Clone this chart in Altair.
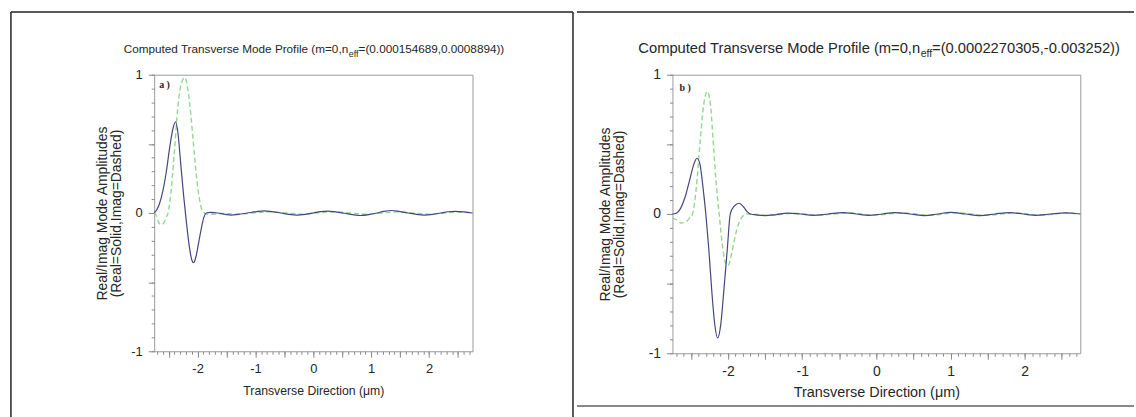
import altair as alt
import pandas as pd

# ---------------- data ----------------
# Panel a
a_real_x = [-2.75, -2.71, -2.66, -2.60, -2.54, -2.48, -2.42, -2.38, -2.34, -2.29, -2.24, -2.19,
            -2.14, -2.10, -2.07, -2.03, -1.98, -1.93, -1.89, -1.85, -1.78, -1.65, -1.52, -1.42,
            -1.30, -1.14, -0.98, -0.85, -0.72, -0.56, -0.42, -0.28, -0.14, 0.0, 0.12, 0.25, 0.38,
            0.54, 0.68, 0.82, 0.96, 1.10, 1.22, 1.35, 1.48, 1.64, 1.78, 1.92, 2.06, 2.20, 2.33,
            2.45, 2.60, 2.75]
a_real_y = [0.0, 0.02, 0.065, 0.16, 0.30, 0.48, 0.62, 0.66, 0.58, 0.35, 0.12, -0.08,
            -0.25, -0.34, -0.36, -0.32, -0.21, -0.10, -0.03, 0.0, 0.005, 0.0, -0.01, -0.015,
            -0.01, 0.0, 0.01, 0.015, 0.01, 0.0, -0.01, -0.015, -0.01, 0.0, 0.01, 0.013, 0.008,
            -0.002, -0.012, -0.018, -0.012, 0.0, 0.012, 0.018, 0.012, 0.0, -0.01, -0.015, -0.01, 0.0, 0.009,
            0.012, 0.008, 0.0]
a_imag_x = [-2.75, -2.71, -2.67, -2.63, -2.58, -2.54, -2.51, -2.46, -2.40, -2.34, -2.28, -2.22,
            -2.17, -2.11, -2.05, -1.99, -1.93, -1.88, -1.82, -1.70, -1.55, -1.30, -1.05, -0.75,
            -0.45, -0.20, 0.05, 0.35, 0.62, 0.90, 1.18, 1.45, 1.72, 2.00, 2.27, 2.55, 2.75]
a_imag_y = [0.0, -0.02, -0.07, -0.085, -0.07, -0.03, 0.0, 0.15, 0.45, 0.77, 0.94, 0.98,
            0.90, 0.68, 0.40, 0.16, 0.03, 0.0, -0.01, -0.008, -0.004, -0.008, 0.0, 0.008,
            0.0, -0.008, 0.0, 0.008, 0.0, -0.008, 0.0, 0.008, 0.0, -0.008, 0.0, 0.007, 0.0]

# Panel b
b_real_x = [-2.75, -2.70, -2.64, -2.58, -2.52, -2.46, -2.42, -2.38, -2.34, -2.30, -2.26, -2.22,
            -2.18, -2.14, -2.10, -2.06, -2.01, -1.97, -1.92, -1.85, -1.79, -1.74, -1.70, -1.60,
            -1.50, -1.35, -1.20, -1.02, -0.85, -0.65, -0.45, -0.27, -0.10, 0.08, 0.25, 0.45,
            0.65, 0.83, 1.00, 1.20, 1.40, 1.60, 1.80, 1.98, 2.15, 2.35, 2.55, 2.75]
b_real_y = [0.0, 0.005, 0.04, 0.12, 0.24, 0.36, 0.40, 0.36, 0.20, 0.0, -0.25, -0.55,
            -0.79, -0.89, -0.80, -0.57, -0.25, 0.0, 0.055, 0.077, 0.05, 0.015, 0.0, -0.008,
            -0.012, -0.004, 0.006, 0.0, -0.01, 0.0, 0.01, 0.0, -0.01, 0.0, 0.01, 0.0,
            -0.012, 0.0, 0.012, 0.0, -0.012, 0.0, 0.01, 0.0, -0.01, 0.0, 0.008, 0.0]
b_imag_x = [-2.75, -2.70, -2.63, -2.58, -2.52, -2.48, -2.43, -2.38, -2.33, -2.28, -2.24, -2.20,
            -2.16, -2.12, -2.07, -2.03, -2.00, -1.95, -1.90, -1.85, -1.80, -1.75, -1.60, -1.42,
            -1.12, -0.77, -0.37, -0.02, 0.33, 0.73, 1.08, 1.48, 1.88, 2.23, 2.55, 2.75]
b_imag_y = [-0.03, -0.04, -0.065, -0.06, -0.03, 0.0, 0.18, 0.50, 0.78, 0.88, 0.80, 0.52,
            0.22, 0.0, -0.25, -0.36, -0.37, -0.28, -0.15, -0.06, -0.015, 0.0, -0.004, -0.009,
            0.005, -0.008, 0.008, -0.008, 0.008, -0.009, 0.009, -0.009, 0.008, -0.008, 0.006, 0.0]

title_a = ["Computed Transverse Mode Profile (m=0,n", "eff", "=(0.000154689,0.0008894))"]
title_b = ["Computed Transverse Mode Profile (m=0,n", "eff", "=(0.0002270305,-0.003252))"]
y_title = ["Real/Imag Mode Amplitudes", "(Real=Solid,Imag=Dashed)"]
x_title = "Transverse Direction (\u03bcm)"
panel_tags = ["a )", "b )"]

x_domain = [-2.75, 2.75]
y_domain = [-1, 1]
x_minor = [round(-2.7 + 0.1 * i, 1) for i in range(55)]
x_major = [-2.5, -2.0, -1.5, -1.0, -0.5, 0.0, 0.5, 1.0, 1.5, 2.0, 2.5]
y_minor = [round(-1.0 + 0.1 * i, 1) for i in range(21)]
y_major = [-1.0, -0.5, 0.0, 0.5, 1.0]

SOLID = "#45467f"
DASHED = "#92d98c"
TXT = "#262626"
TICK = "#8a8a8a"
REG = "Liberation Sans, Arial, sans-serif"

one = pd.DataFrame({"k": [0]})
LBL = "datum.value == round(datum.value) ? '' + datum.value : ''"


def panel(rx, ry, ix, iy, W, H, lsize, xtsize, title, tparts, tag, yt_x, borders):
    xs = alt.Scale(domain=x_domain, nice=False, zero=False)
    ys = alt.Scale(domain=y_domain, nice=False, zero=False)
    real_df = pd.DataFrame({"x": rx, "y": ry})
    imag_df = pd.DataFrame({"x": ix, "y": iy})

    maj_x = alt.Axis(orient="bottom", values=x_major, tickSize=6, tickColor=TICK, domain=False,
                     grid=False, labelExpr=LBL, labelFont=REG, labelFontSize=lsize, labelColor=TXT,
                     labelPadding=5, labelBaseline="top", title=x_title, titleFont=REG,
                     titleFontSize=xtsize, titleFontWeight="normal", titleColor=TXT, titleY=39,
                     titleBaseline="middle")
    maj_y = alt.Axis(orient="left", values=y_major, tickSize=6, tickColor=TICK, domain=False,
                     grid=False, labelExpr=LBL, labelFont=REG, labelFontSize=lsize, labelColor=TXT,
                     labelPadding=6, title=y_title, titleFont=REG, titleFontSize=14,
                     titleFontWeight="normal", titleColor=TXT, titleX=yt_x, titleBaseline="middle",
                     titleLineHeight=14)
    min_x = alt.Axis(orient="bottom", values=x_minor, tickSize=3, tickColor=TICK, domain=False,
                     grid=False, labels=False, title=None)
    min_y = alt.Axis(orient="left", values=y_minor, tickSize=3, tickColor=TICK, domain=False,
                     grid=False, labels=False, title=None)

    imag = alt.Chart(imag_df).mark_line(color=DASHED, strokeWidth=1.4, strokeDash=[5, 3],
                                        interpolate="monotone").encode(
        x=alt.X("x:Q", scale=xs, axis=min_x), y=alt.Y("y:Q", scale=ys, axis=min_y))
    real = alt.Chart(real_df).mark_line(color=SOLID, strokeWidth=1.2,
                                        interpolate="monotone").encode(
        x=alt.X("x:Q", scale=xs, axis=maj_x), y=alt.Y("y:Q", scale=ys, axis=maj_y))

    p1x, effx, p3x, ty, tfs, efs = tparts
    t1 = alt.Chart(one).mark_text(text=title[0], font=REG, fontSize=tfs, color=TXT, align="right",
                                  baseline="middle").encode(x=alt.value(p1x), y=alt.value(ty))
    t2 = alt.Chart(one).mark_text(text=title[1], font=REG, fontSize=efs, color=TXT, align="left",
                                  baseline="middle").encode(x=alt.value(effx), y=alt.value(ty + 5))
    t3 = alt.Chart(one).mark_text(text=title[2], font=REG, fontSize=tfs, color=TXT, align="left",
                                  baseline="middle").encode(x=alt.value(p3x), y=alt.value(ty))
    tg = alt.Chart(one).mark_text(text=tag[0], font="Liberation Serif, serif", fontSize=10,
                                  fontWeight="bold", color=TXT, align="left",
                                  baseline="middle").encode(x=alt.value(tag[1]), y=alt.value(tag[2]))
    layers = [imag, real, t1, t2, t3, tg]
    for (x1, x2, y1, y2, col, sw) in borders:
        if x1 == x2:
            r = alt.Chart(one).mark_rule(color=col, strokeWidth=sw).encode(
                x=alt.value(x1), y=alt.value(y1), y2=alt.value(y2))
        else:
            r = alt.Chart(one).mark_rule(color=col, strokeWidth=sw).encode(
                x=alt.value(x1), x2=alt.value(x2), y=alt.value(y1))
        layers.append(r)
    return alt.layer(*layers).resolve_axis(x="independent", y="independent").properties(
        width=W, height=H)


pa = panel(a_real_x, a_real_y, a_imag_x, a_imag_y, 320, 278, 13, 12.3, title_a,
           (195, 195.5, 205.5, -26, 11.8, 9), (panel_tags[0], 5, 10), -51.5,
           [(-144, -144, -63, 344, "#222222", 1.5),
            (-144, 421, -63, -63, "#222222", 1.5),
            (421, 421, -63, 344, "#222222", 1.5)])
pb = panel(b_real_x, b_real_y, b_imag_x, b_imag_y, 410, 280, 14, 14.5, title_b,
           (249, 249.5, 261, -26, 14.8, 10.5), (panel_tags[1], 7, 13), -67,
           [(-96, 464, -63, -63, "#222222", 1.5),
            (-96, 464, 333, 333, "#888888", 2)])

chart = alt.hconcat(pa, pb, spacing=0).properties(
    padding={"left": 9, "top": 9, "right": 0, "bottom": 0}, background="white"
).configure_view(stroke="#9a9a9a", strokeWidth=1)

chart.save("out.html", embed_options={"renderer": "svg", "actions": False})
